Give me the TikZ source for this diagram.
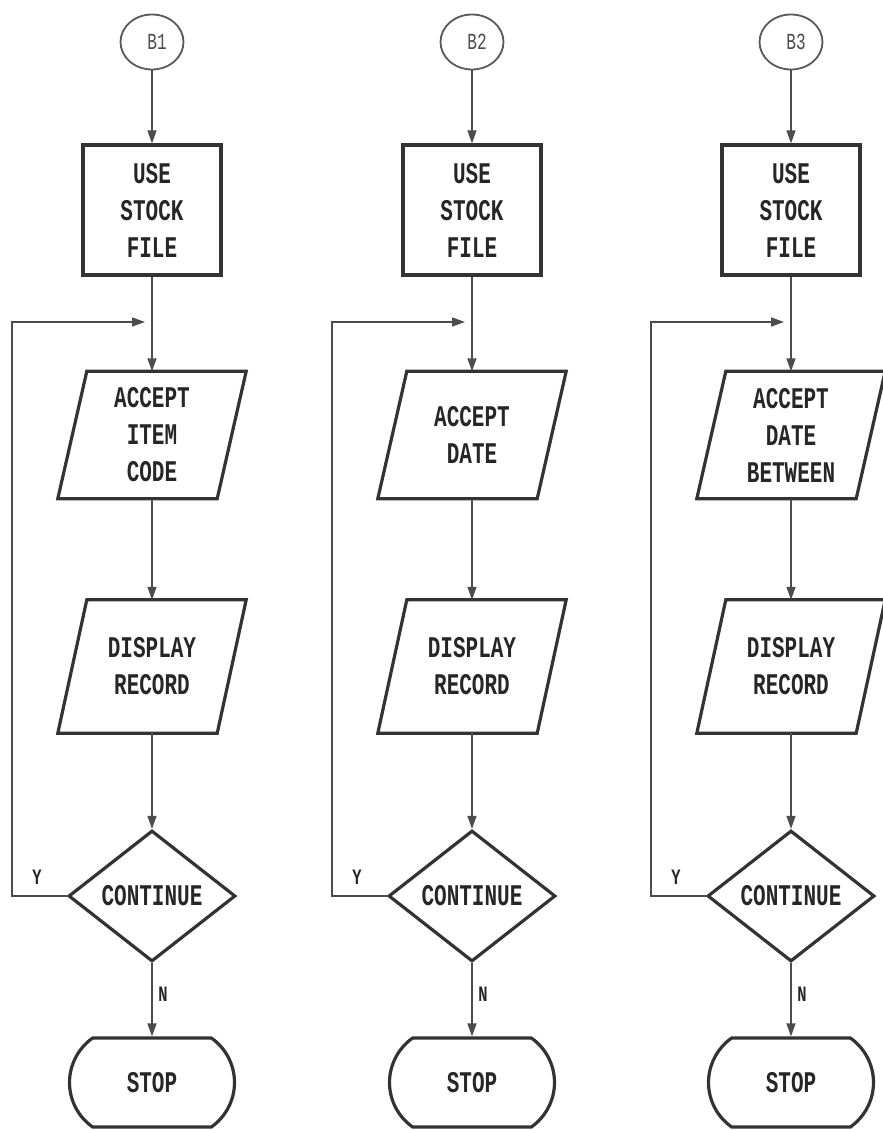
\documentclass[tikz,border=0pt]{standalone}
\usepackage{fontspec}
\usetikzlibrary{shapes.geometric,shapes.misc,arrows.meta}
\newfontfamily\dotfont[FakeStretch=0.7]{Liberation Mono}
\tikzset{
  shp/.style={draw=black!80, line width=3.2pt},
  lbl/.style={font=\dotfont\fontsize{30}{37}\selectfont\bfseries, text=black!85, align=center},
  startnode/.style={ellipse, draw=black!65, line width=1.8pt, minimum width=63pt, minimum height=55pt, inner sep=0pt, font=\dotfont\fontsize{23}{23}\selectfont, text=black!70},
  procbox/.style={shp, lbl, rectangle, minimum width=138pt, minimum height=130pt, inner sep=0pt},
  iobox/.style={lbl, rectangle, minimum width=188pt, inner sep=0pt},
  decbox/.style={shp, lbl, diamond, minimum width=167pt, minimum height=131pt, inner sep=0pt},
  endbox/.style={shp, lbl, rounded rectangle, rounded rectangle arc length=110, minimum width=165pt, minimum height=89pt, inner sep=0pt},
  conn/.style={draw=black!70, line width=1.4pt, -{Triangle[length=13pt,width=9pt]}},
  yn/.style={font=\dotfont\fontsize{22}{22}\selectfont\bfseries, text=black!85},
}
\begin{document}
\begin{tikzpicture}[x=1pt,y=-1pt]
\fill[white] (0,0) rectangle (883,1130);
\useasboundingbox (0,0) rectangle (883,1130);
\foreach \i/\c/\acc in {1/152/{ACCEPT\\ITEM\\CODE}, 2/472/{ACCEPT\\DATE}, 3/791/{ACCEPT\\DATE\\BETWEEN}}{
  \node[startnode] (s\i) at (\c,42) {\hspace*{10pt}B\i};
  \node[procbox] (u\i) at (\c,210) {USE\\STOCK\\FILE};
  \node[iobox, minimum height=127pt] (a\i) at (\c,435) {\acc};
  \node[iobox, minimum height=133pt] (d\i) at (\c,666.5) {DISPLAY\\RECORD};
  \node[decbox] (q\i) at (\c,896) {CONTINUE};
  \node[endbox] (e\i) at (\c,1082.5) {STOP};
  \coordinate (j\i) at ({\c-7},322);
  \coordinate (k\i) at ({\c-140},322);
  \draw[shp] ([xshift=29pt]a\i.north west) -- (a\i.north east) -- ([xshift=-29pt]a\i.south east) -- (a\i.south west) -- cycle;
  \draw[shp] ([xshift=29pt]d\i.north west) -- (d\i.north east) -- ([xshift=-29pt]d\i.south east) -- (d\i.south west) -- cycle;
  \draw[conn] (s\i.south) -- (u\i.north);
  \draw[conn] (u\i.south) -- (a\i.north);
  \draw[conn] (a\i.south) -- (d\i.north);
  \draw[conn] (d\i.south) -- (q\i.north);
  \draw[conn] (q\i.south) -- (e\i.north);
  \draw[conn] (q\i.west) -| (k\i) -- (j\i);
  \node[yn] (y\i) at ({\c-115},877) {Y};
  \node[yn] (n\i) at ({\c+11},994) {N};
}
\end{tikzpicture}
\end{document}
